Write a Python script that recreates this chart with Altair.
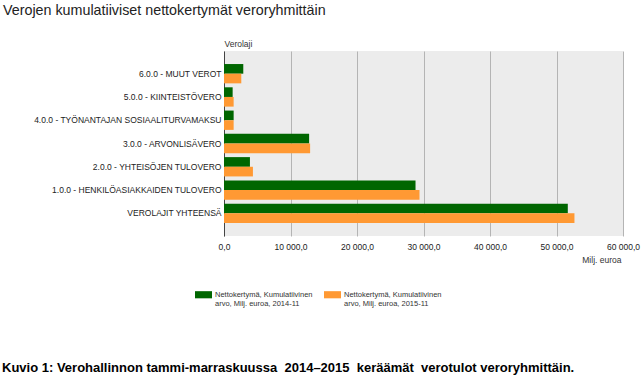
import altair as alt
import pandas as pd

categories = [
    "6.0.0 - MUUT VEROT",
    "5.0.0 - KIINTEISTÖVERO",
    "4.0.0 - TYÖNANTAJAN SOSIAALITURVAMAKSU",
    "3.0.0 - ARVONLISÄVERO",
    "2.0.0 - YHTEISÖJEN TULOVERO",
    "1.0.0 - HENKILÖASIAKKAIDEN TULOVERO",
    "VEROLAJIT YHTEENSÄ",
]
values_2014 = [2900, 1300, 1450, 12800, 3900, 28800, 51700]
values_2015 = [2600, 1450, 1450, 12950, 4350, 29400, 52700]
series = [
    "Nettokertymä, Kumulatiivinen arvo, Milj. euroa, 2014-11",
    "Nettokertymä, Kumulatiivinen arvo, Milj. euroa, 2015-11",
]
colors = ["#006600", "#ff9933"]
x_ticks = [0, 10000, 20000, 30000, 40000, 50000, 60000]

title_text = "Verojen kumulatiiviset nettokertymät veroryhmittäin"
caption_text = "Kuvio 1: Verohallinnon tammi-marraskuussa\u00a0 2014–2015\u00a0 keräämät\u00a0 verotulot veroryhmittäin."

rows = []
for c, a, b in zip(categories, values_2014, values_2015):
    rows.append({"Verolaji": c, "Sarja": series[0], "Arvo": a})
    rows.append({"Verolaji": c, "Sarja": series[1], "Arvo": b})
df = pd.DataFrame(rows)

FONT = "Liberation Sans, Arial, sans-serif"

bars = alt.Chart(df).mark_bar().encode(
    y=alt.Y(
        "Verolaji:N",
        sort=categories,
        scale=alt.Scale(paddingInner=0.17, paddingOuter=0.56),
        axis=alt.Axis(
            title="Verolaji",
            titleAngle=0,
            titleX=0,
            titleY=-8,
            titleAlign="left",
            titleBaseline="middle",
            titleFont=FONT,
            titleFontSize=8.5,
            titleFontWeight="normal",
            titleColor="#333333",
            labelFont=FONT,
            labelFontSize=8.5,
            labelColor="#222222",
            labelPadding=3,
            labelLimit=300,
            ticks=False,
            grid=False,
            domain=True,
            domainColor="#444444",
            domainWidth=1,
        ),
    ),
    yOffset=alt.YOffset("Sarja:N", sort=series, scale=alt.Scale(paddingInner=0, paddingOuter=0)),
    x=alt.X(
        "Arvo:Q",
        scale=alt.Scale(domain=[0, 60000], nice=False),
        axis=alt.Axis(
            values=x_ticks,
            title="Milj. euroa",
            titleX=397,
            titleY=23,
            titleAlign="right",
            titleBaseline="middle",
            titleFont=FONT,
            titleFontSize=8.5,
            titleFontWeight="normal",
            titleColor="#333333",
            labelExpr="replace(replace(format(datum.value, ',.1f'), ',', ' '), '.', ',')",
            labelFont=FONT,
            labelFontSize=8.5,
            labelColor="#222222",
            labelPadding=6,
            labelFlush=False,
            labelOverlap=False,
            ticks=False,
            domain=False,
            grid=True,
            gridColor="#b4b4b4",
            gridWidth=1,
        ),
    ),
    color=alt.Color(
        "Sarja:N",
        sort=series,
        scale=alt.Scale(domain=series, range=colors),
        legend=alt.Legend(
            title=None,
            orient="none",
            direction="horizontal",
            legendX=-29,
            legendY=235,
            columns=2,
            columnPadding=11,
            symbolType="M-1,-0.42L1,-0.42L1,0.42L-1,0.42Z",
            symbolSize=289,
            symbolStrokeWidth=0,
            symbolOpacity=1,
            labelFont=FONT,
            labelFontSize=7.5,
            labelColor="#333333",
            labelOffset=3,
            labelLimit=200,
            labelExpr="[slice(datum.label, 0, 28), slice(datum.label, 29)]",
        ),
    ),
)

title = alt.Chart(pd.DataFrame({"t": [title_text]})).mark_text(
    align="left", baseline="middle", font=FONT, fontSize=14.3, color="#222222"
).encode(text="t:N", x=alt.value(-221), y=alt.value(-40))

caption = alt.Chart(pd.DataFrame({"t": [caption_text]})).mark_text(
    align="left", baseline="middle", font=FONT,
    fontSize=13, fontWeight="bold", color="#000000"
).encode(text="t:N", x=alt.value(-222), y=alt.value(317))

chart = alt.layer(bars, title, caption).properties(
    width=399,
    height=185,
    autosize=alt.AutoSizeParams(type="none"),
    padding={"left": 224, "top": 51, "right": 19, "bottom": 141},
    background="white",
).configure_view(fill="#ececec", stroke=None)

chart.save("out.html", embed_options={"renderer": "svg", "actions": False})
